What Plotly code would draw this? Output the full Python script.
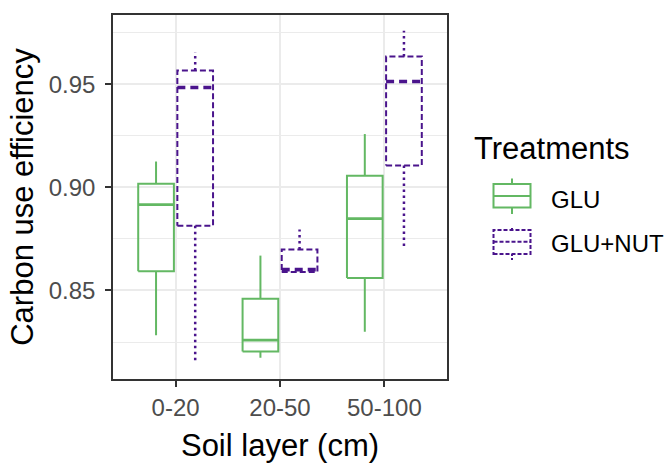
import plotly.graph_objects as go

# ---------------- data ----------------
categories = ["0-20", "20-50", "50-100"]

glu_lower = [0.8283, 0.8174, 0.8300]
glu_q1 = [0.8593, 0.8204, 0.8561]
glu_median = [0.8916, 0.8259, 0.8848]
glu_q3 = [0.9017, 0.8460, 0.9056]
glu_upper = [0.9125, 0.8669, 0.9258]

nut_lower = [0.8154, 0.8590, 0.8706]
nut_q1 = [0.8814, 0.8590, 0.9106]
nut_median = [0.9484, 0.8601, 0.9513]
nut_q3 = [0.9566, 0.8698, 0.9634]
nut_upper = [0.9655, 0.8795, 0.9759]

y_ticks = [0.85, 0.90, 0.95]
y_tick_labels = ["0.85", "0.90", "0.95"]
y_minor = [0.825, 0.875, 0.925, 0.975]

treatments = ["GLU", "GLU+NUT"]

# ---------------- style ----------------
GREEN = "#63B863"
PURPLE = "#4A148C"
FONT = "Liberation Sans, Arial, sans-serif"
W, H = 665, 463
ML, MR, MT, MB = 113, 218, 15, 84

DODGE = 0.1875
HALF = 0.171


def box_paths(offset, lower, q1, med, q3, upper):
    bx, by, wx, wy, mx, my = [], [], [], [], [], []
    for i in range(len(categories)):
        c = i + 1 + offset
        l, r = c - HALF, c + HALF
        bx += [l, r, r, l, l, None]
        by += [q1[i], q1[i], q3[i], q3[i], q1[i], None]
        wx += [c, c, None, c, c, None]
        wy += [q3[i], upper[i], None, q1[i], lower[i], None]
        mx += [l, r, None]
        my += [med[i], med[i], None]
    return (bx, by), (wx, wy), (mx, my)


fig = go.Figure()

specs = [
    (-DODGE, (glu_lower, glu_q1, glu_median, glu_q3, glu_upper), GREEN,
     "solid", "solid", "solid", 2.0, 2.8, treatments[0]),
    (DODGE, (nut_lower, nut_q1, nut_median, nut_q3, nut_upper), PURPLE,
     "6px,3px", "2.5px,3.5px", "8px,5px", 2.0, 3.6, treatments[1]),
]

for off, vals, col, bdash, wdash, mdash, lw, mw, name in specs:
    (bx, by), (wx, wy), (mx, my) = box_paths(off, *vals)
    fig.add_trace(go.Scatter(x=wx, y=wy, mode="lines", name=name,
                             line=dict(color=col, width=lw + (0.5 if wdash != "solid" else 0), dash=wdash),
                             showlegend=False, hoverinfo="skip"))
    fig.add_trace(go.Scatter(x=bx, y=by, mode="lines", name=name,
                             line=dict(color=col, width=lw, dash=bdash),
                             fill="none", showlegend=False, hoverinfo="skip"))
    fig.add_trace(go.Scatter(x=mx, y=my, mode="lines", name=name,
                             line=dict(color=col, width=mw, dash=mdash),
                             showlegend=False, hoverinfo="skip"))

# ---------------- custom legend (box glyphs) ----------------
PW = W - ML - MR
PH = H - MT - MB


def px(x):
    return (x - ML) / PW


def py(y):
    return (H - MB - y) / PH


shapes = []
legend_rows = [
    (treatments[0], GREEN, "solid", "solid", 196.0, 184.0, 207.5, 178.5, 214.0),
    (treatments[1], PURPLE, "4px,2px", "2px,2px", 241.7, 230.0, 254.0, 226.0, 260.0),
]
label_y = [199.7, 243.3]
gx0, gx1 = 493.5, 530.5
gxc = (gx0 + gx1) / 2
annotations = []
for (name, col, dash, wdash, yc, yt, yb, wt, wb), ly in zip(legend_rows, label_y):
    ln = dict(color=col, width=2.0, dash=dash)
    shapes.append(dict(type="rect", xref="paper", yref="paper",
                       x0=px(gx0), x1=px(gx1), y0=py(yb), y1=py(yt), line=ln))
    shapes.append(dict(type="line", xref="paper", yref="paper",
                       x0=px(gx0), x1=px(gx1), y0=py(yc), y1=py(yc), line=ln))
    shapes.append(dict(type="line", xref="paper", yref="paper",
                       x0=px(gxc), x1=px(gxc), y0=py(yt), y1=py(wt),
                       line=dict(color=col, width=2.0, dash=wdash)))
    shapes.append(dict(type="line", xref="paper", yref="paper",
                       x0=px(gxc), x1=px(gxc), y0=py(yb), y1=py(wb),
                       line=dict(color=col, width=2.0, dash=wdash)))
    annotations.append(dict(text=name, xref="paper", yref="paper",
                            x=px(549), y=py(ly), xanchor="left", yanchor="middle",
                            showarrow=False,
                            font=dict(family=FONT, size=24, color="#000000")))

annotations.append(dict(text="Treatments", xref="paper", yref="paper",
                        x=px(472), y=py(148), xanchor="left", yanchor="middle",
                        showarrow=False,
                        font=dict(family=FONT, size=31, color="#000000")))

fig.update_layout(
    width=W, height=H,
    margin=dict(l=ML, r=MR, t=MT, b=MB),
    paper_bgcolor="white", plot_bgcolor="white",
    showlegend=False,
    shapes=shapes,
    annotations=annotations,
    font=dict(family=FONT),
)

fig.update_xaxes(
    range=[0.4, 3.6], automargin=False,
    tickmode="array", tickvals=[1, 2, 3], ticktext=categories,
    tickfont=dict(family=FONT, size=24, color="#4D4D4D"),
    ticks="outside", ticklen=6, tickwidth=1.5, tickcolor="#333333",
    showgrid=True, gridcolor="#EBEBEB", gridwidth=1.5,
    showline=True, linecolor="#333333", linewidth=1.5, mirror=True,
    zeroline=False,
    title=dict(text="Soil layer (cm)", font=dict(family=FONT, size=31, color="#000000"),
               standoff=17),
)

fig.update_yaxes(
    range=[0.8071, 0.9835], automargin=False,
    tickmode="array", tickvals=y_ticks, ticktext=y_tick_labels,
    tickfont=dict(family=FONT, size=24, color="#4D4D4D"),
    ticklabelstandoff=5,
    ticks="outside", ticklen=6, tickwidth=1.5, tickcolor="#333333",
    showgrid=True, gridcolor="#EBEBEB", gridwidth=1.5,
    minor=dict(tickvals=y_minor, showgrid=True, gridcolor="#EBEBEB", gridwidth=1, ticks=""),
    showline=True, linecolor="#333333", linewidth=1.5, mirror=True,
    zeroline=False,
    title=dict(text="Carbon use efficiency", font=dict(family=FONT, size=31, color="#000000"),
               standoff=6),
)

fig.write_html("out.html", config={"displayModeBar": False},
               post_script="document.body.style.margin='0';")
